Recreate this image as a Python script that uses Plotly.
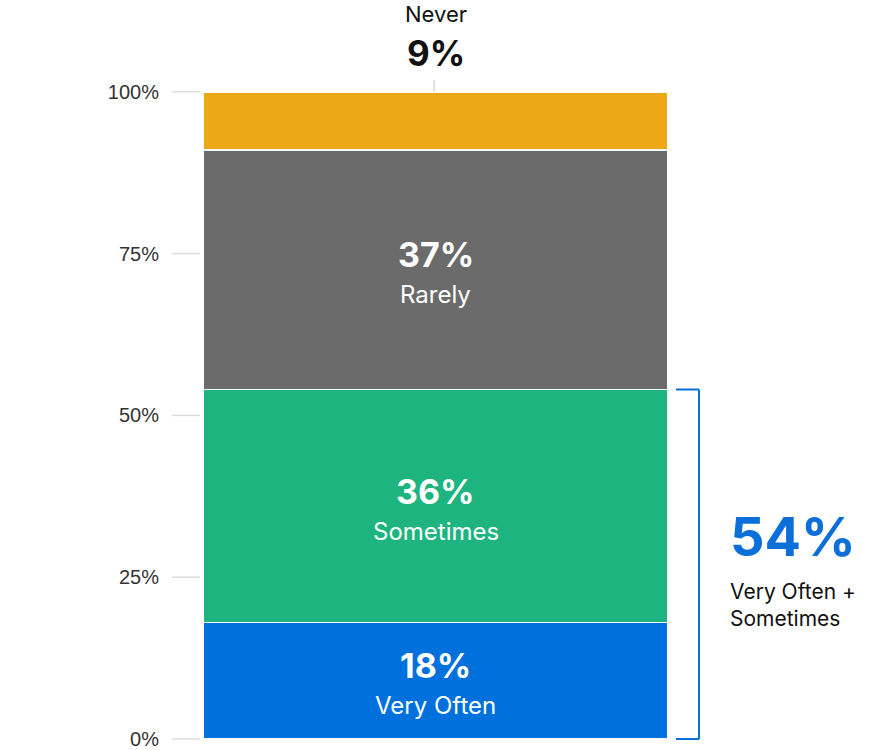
import plotly.graph_objects as go

categories = ["Very Often", "Sometimes", "Rarely", "Never"]
values = [18, 36, 37, 9]
colors = ["#0071DC", "#1DB47F", "#6B6B6B", "#ECA816"]
tick_vals = [0, 25, 50, 75, 100]
tick_text = ["0%", "25%", "50%", "75%", "100%"]
combined_label = "Very Often +<br>Sometimes"
combined_value = values[0] + values[1]

FONT = "Inter"
PX_PER_UNIT = 6.49
BAR_PX = 465.0

fig = go.Figure()
for cat, val, col in zip(categories, values, colors):
    fig.add_trace(go.Bar(
        x=[0.5], y=[val], width=[1], name=cat,
        marker=dict(color=col, line=dict(color="white", width=1.5)),
        hoverinfo="skip", showlegend=False,
    ))

annotations = []
shapes = []
base = 0
for cat, val in zip(categories, values):
    mid = base + val / 2
    if cat == "Never":
        top = base + val
        annotations.append(dict(x=0.5, y=top, yshift=39, text=f"<b>{val}%</b>",
                                font=dict(family=FONT, size=35, color="#111111"),
                                showarrow=False, xanchor="center", yanchor="middle"))
        annotations.append(dict(x=0.5, y=top, yshift=78, text=cat,
                                font=dict(family=FONT, size=22, color="#111111"),
                                showarrow=False, xanchor="center", yanchor="middle"))
        shapes.append(dict(type="line", xref="x", yref="y", x0=0.497, x1=0.497,
                           y0=top, y1=top + 12 / PX_PER_UNIT,
                           line=dict(color="#d9d9d9", width=1.5)))
    else:
        annotations.append(dict(x=0.5, y=mid, yshift=15, text=f"<b>{val}%</b>",
                                font=dict(family=FONT, size=34, color="white"),
                                showarrow=False, xanchor="center", yanchor="middle"))
        annotations.append(dict(x=0.5, y=mid, yshift=-25, text=cat,
                                font=dict(family=FONT, size=24, color="white"),
                                showarrow=False, xanchor="center", yanchor="middle"))
    base += val

# tick marks
for tv in tick_vals:
    shapes.append(dict(type="line", xref="x", yref="y",
                       x0=-31 / BAR_PX, x1=-3 / BAR_PX, y0=tv, y1=tv,
                       line=dict(color="#dedede", width=1.5)))

# bracket
bx = 496 / BAR_PX
bx0 = 473 / BAR_PX
bcol = "#0A6FD8"
shapes.append(dict(type="line", xref="x", yref="y", x0=bx, x1=bx, y0=0, y1=combined_value,
                   line=dict(color=bcol, width=2)))
shapes.append(dict(type="line", xref="x", yref="y", x0=bx0, x1=bx, y0=0, y1=0,
                   line=dict(color=bcol, width=2)))
shapes.append(dict(type="line", xref="x", yref="y", x0=bx0, x1=bx, y0=combined_value, y1=combined_value,
                   line=dict(color=bcol, width=2)))

mid_c = combined_value / 2
annotations.append(dict(x=525 / BAR_PX, y=mid_c, yshift=28, text=f"<b>{combined_value}%</b>",
                        font=dict(family=FONT, size=54, color="#0A6FD8"),
                        showarrow=False, xanchor="left", yanchor="middle"))
annotations.append(dict(x=525 / BAR_PX, y=mid_c, yshift=-41, text=combined_label,
                        font=dict(family=FONT, size=21, color="#111111"),
                        showarrow=False, xanchor="left", yanchor="middle", align="left"))

fig.update_layout(
    width=888, height=750,
    margin=dict(l=172, r=0, t=0, b=0),
    paper_bgcolor="white", plot_bgcolor="white",
    barmode="stack",
    xaxis=dict(range=[-31 / BAR_PX, 685 / BAR_PX], visible=False, fixedrange=True),
    yaxis=dict(range=[-9 / PX_PER_UNIT, 100 + 92 / PX_PER_UNIT],
               tickvals=tick_vals, ticktext=tick_text,
               showgrid=False, zeroline=False, showline=False, ticks="",
               ticklabelstandoff=12, ticklabeloverflow="allow",
               tickfont=dict(family="Liberation Sans", size=20, color="#333333")),
    annotations=annotations,
    shapes=shapes,
)

fig.write_html("out.html")
